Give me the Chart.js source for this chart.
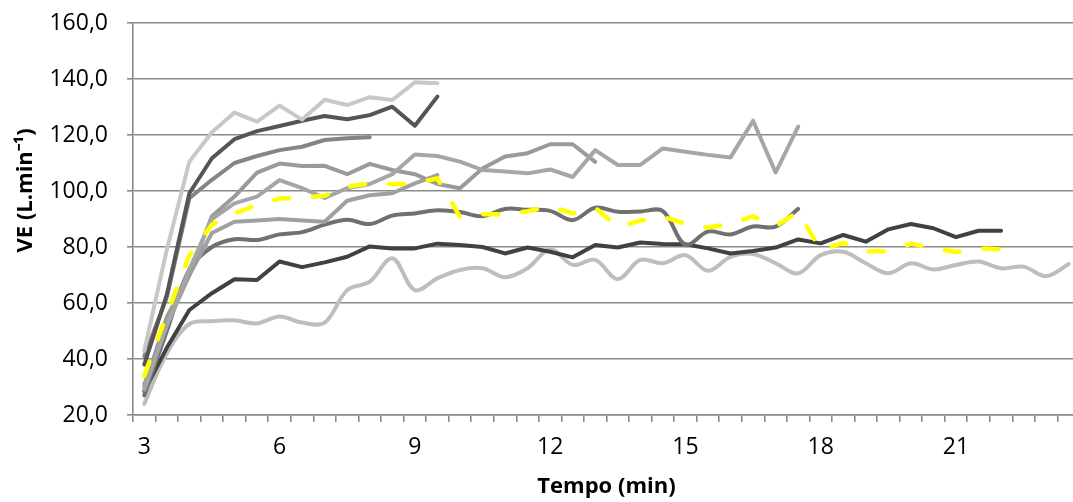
<!DOCTYPE html>
<html>
<head>
<meta charset="utf-8">
<script src="https://cdn.jsdelivr.net/npm/chart.js@4.4.0/dist/chart.umd.min.js"></script>
<style>
  html, body { margin: 0; padding: 0; background: #fff; overflow: hidden; }
  #wrap { width: 1082px; height: 502px; }
</style>
</head>
<body>
<div id="wrap"><canvas id="veChart"></canvas></div>
<script>
// tempo (min), one point every 30 s
const tempo = [3, 3.5, 4, 4.5, 5, 5.5, 6, 6.5, 7, 7.5, 8, 8.5, 9, 9.5, 10, 10.5, 11, 11.5,
  12, 12.5, 13, 13.5, 14, 14.5, 15, 15.5, 16, 16.5, 17, 17.5, 18, 18.5, 19, 19.5, 20, 20.5,
  21, 21.5, 22, 22.5, 23, 23.5];
const xTickLabels = [3, 6, 9, 12, 15, 18, 21];

// VE (L.min-1) per subject
const s1 = [43, 79, 110.5, 121, 128, 124.8, 130.5, 125.5, 132.6, 130.7, 133.5, 132.5, 138.8, 138.5];
const s2 = [38, 63, 99.2, 111.7, 118.5, 121.4, 123.2, 125.1, 126.8, 125.6, 127.1, 130.1, 123.3, 133.7];
const s3 = [41, 62, 97.4, 104, 110, 112.5, 114.6, 115.8, 118.2, 118.8, 119.2];
const s4 = [29, 52, 72, 90, 95.6, 98, 103.9, 101, 97.5, 101, 102.5, 106, 113, 112.5, 110.5,
  107.5, 107, 106.3, 107.7, 105, 114.6, 109.3, 109.3, 115.2, 114, 112.9, 112, 125.1, 106.6, 123];
const s5 = [30, 55, 70, 91, 98, 106.6, 109.8, 108.9, 109, 106, 109.7, 107.5, 106, 102.5, 101,
  108, 112.3, 113.5, 116.7, 116.7, 110.4];
const s6 = [31, 52, 70, 85, 89, 89.5, 90, 89.5, 89, 96.5, 98.5, 99.2, 102.7, 105.7];
const s7 = [27, 50, 72, 80, 82.8, 82.5, 84.5, 85.3, 88, 89.7, 88.2, 91.2, 92, 93.1, 92.5, 91,
  93.6, 93.3, 92.9, 89.6, 94, 92.6, 92.7, 92.8, 80.8, 85.5, 84.5, 87.3, 87.3, 93.6];
const s8 = [28.5, 44, 57.5, 63.5, 68.5, 68.2, 74.8, 72.8, 74.5, 76.5, 80.2, 79.5, 79.5, 81.2,
  80.7, 80, 77.7, 79.8, 78.3, 76.3, 80.7, 79.8, 81.6, 81.1, 81, 79.5, 77.7, 78.6, 79.8, 82.7,
  81.3, 84.3, 81.9, 86.3, 88.2, 86.7, 83.5, 85.8, 85.8];
const s9 = [24, 42, 52.5, 53.5, 53.8, 52.7, 55.2, 53, 53, 64.6, 67.6, 76, 64.6, 68.8, 71.8,
  72.4, 69.2, 72.4, 79.2, 73.6, 75.4, 68.5, 75.4, 74.2, 77.1, 71.5, 76.5, 77.5, 74.2, 70.6,
  77.1, 78.3, 74.2, 70.6, 74.2, 72, 73.6, 74.8, 72.4, 73, 69.6, 73.9];
// group mean (yellow dashed)
const media = [34, 56, 77, 88, 92, 95, 97.3, 97.6, 98.3, 101.5, 102.8, 102.5, 102.7, 104.5,
  90.8, 91.7, 91.7, 92.8, 94.5, 92, 94, 87.2, 89.4, 90.8, 88.3, 87, 88.2, 91, 87.5, 92.5,
  79, 81.5, 78.5, 78.5, 81.2, 79.5, 78.2, 79.5, 79.2];

Chart.defaults.font.family = "'Open Sans', sans-serif";
Chart.defaults.font.size = 23;
Chart.defaults.color = '#000';

function serie(label, data, color, smooth) {
    return {
        label: label,
        data: data,
        borderColor: color,
        borderWidth: 4,
        pointRadius: 0,
        borderJoinStyle: 'round',
        borderCapStyle: 'round',
        tension: smooth ? 0.35 : 0,
        fill: false,
    };
}

const gridColor = '#8a8a8a';

new Chart(document.getElementById('veChart'), {
    type: 'line',
    data: {
        labels: tempo,
        datasets: [
            {
                label: 'Média',
                data: media,
                borderColor: '#ffff00',
                borderWidth: 4.5,
                borderDash: [15, 24],
                borderCapStyle: 'round',
                borderJoinStyle: 'round',
                pointRadius: 0,
                tension: 0,
                fill: false,
            },
            serie('S1', s1, '#c8c8c8'),
            serie('S2', s2, '#555555'),
            serie('S3', s3, '#858585'),
            serie('S4', s4, '#a6a6a6'),
            serie('S5', s5, '#9a9a9a'),
            serie('S6', s6, '#a0a0a0'),
            serie('S7', s7, '#707070', true),
            serie('S8', s8, '#414141'),
            serie('S9', s9, '#bebebe', true),
        ]
    },
    options: {
        responsive: true,
        maintainAspectRatio: false,
        animation: false,
        layout: { padding: { left: 0, right: 2, top: 0, bottom: 0 } },
        plugins: {
            legend: { display: false },
            tooltip: { enabled: false },
        },
        scales: {
            x: {
                type: 'category',
                offset: true,
                afterFit: (scale) => { scale.height = 87; },
                grid: {
                    offset: true,
                    drawOnChartArea: false,
                    drawTicks: true,
                    tickLength: 7,
                    color: gridColor,
                    lineWidth: 1.6,
                },
                border: { display: true, color: gridColor, width: 1.6 },
                ticks: {
                    autoSkip: false,
                    maxRotation: 0,
                    padding: 12,
                    callback: function (value, index) {
                        const t = tempo[index];
                        return xTickLabels.includes(t) ? String(t) : '';
                    },
                },
                title: {
                    display: true,
                    text: 'Tempo (min)',
                    font: { size: 22, weight: 'bold' },
                    padding: { top: 0, bottom: 2 },
                },
            },
            y: {
                min: 20,
                max: 160,
                afterFit: (scale) => {
                    scale.width = 133;
                    scale.paddingTop = 23;
                },
                grid: {
                    color: gridColor,
                    lineWidth: 1.6,
                    tickLength: 6,
                },
                border: { display: true, color: gridColor, width: 1.6 },
                ticks: {
                    stepSize: 20,
                    padding: 19,
                    callback: (v) => v.toFixed(1).replace('.', ','),
                },
                title: {
                    display: true,
                    text: '          VE (L.min\u207B\u00B9)',
                    font: { size: 22, weight: 'bold' },
                    padding: { top: 13, bottom: 0 },
                },
            }
        }
    }
});
</script>
</body>
</html>
